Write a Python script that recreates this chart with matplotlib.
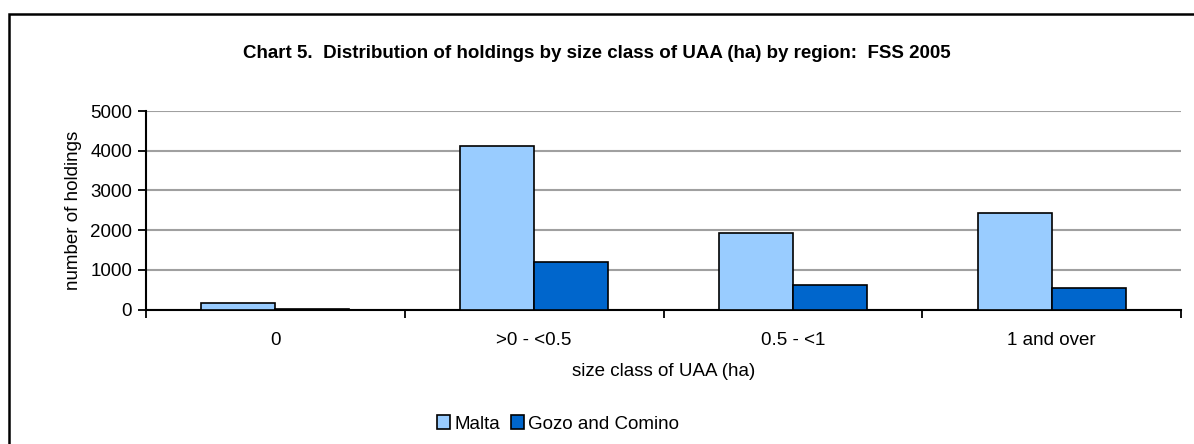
import matplotlib
matplotlib.use("Agg")
import matplotlib.pyplot as plt
import numpy as np
from matplotlib.patches import Rectangle

plt.rcParams["font.family"] = ["Liberation Sans", "DejaVu Sans"]

categories = ["0", ">0 - <0.5", "0.5 - <1", "1 and over"]
malta = [170, 4120, 1930, 2420]
gozo = [25, 1190, 620, 540]
series_names = ["Malta", "Gozo and Comino"]
colors = ["#99CCFF", "#0066CC"]

W, H = 1194, 444
fig = plt.figure(figsize=(W / 100, H / 100), dpi=100)

# outer chart frame (clipped at right/bottom like the reference)
fig.patches.append(Rectangle((8.5 / W, -0.1), 1.2, 1 - 14.5 / H + 0.1,
                             transform=fig.transFigure, fill=False,
                             edgecolor="black", linewidth=1.8))

ax = fig.add_axes([146 / W, 1 - 309.5 / H, (1181 - 146) / W, (309.5 - 111) / H])

x = np.arange(len(categories))
bw = 1 / 3.5
ax.bar(x - bw / 2, malta, bw, color=colors[0], edgecolor="black", linewidth=1.2,
       label=series_names[0], zorder=3)
ax.bar(x + bw / 2, gozo, bw, color=colors[1], edgecolor="black", linewidth=1.2,
       label=series_names[1], zorder=3)

ax.set_xlim(-0.5, len(categories) - 0.5)
ax.set_ylim(0, 5000)
ax.set_yticks(range(0, 5001, 1000))
ax.yaxis.grid(True, color="#a0a0a0", linewidth=1.5, zorder=0)
ax.set_axisbelow(True)

ax.set_xticks(np.arange(-0.5, len(categories), 1.0))
ax.set_xticklabels([])
ax.set_xticks(x, minor=True)
ax.set_xticklabels(categories, minor=True)
ax.tick_params(axis="x", which="major", length=6, width=1.3, direction="out")
ax.tick_params(axis="x", which="minor", length=0, labelsize=13.5, pad=16)
ax.tick_params(axis="y", length=6, width=1.3, direction="out", labelsize=13.5, pad=4)

for side in ["top", "right"]:
    ax.spines[side].set_visible(False)
ax.spines["left"].set_linewidth(1.5)
ax.spines["bottom"].set_linewidth(1.5)

ax.set_ylabel("number of holdings", fontsize=13.5, labelpad=6)
ax.set_xlabel("size class of UAA (ha)", fontsize=13.5, labelpad=10)

fig.text(0.5, 1 - 53 / H, "Chart 5.  Distribution of holdings by size class of UAA (ha) by region:  FSS 2005",
         ha="center", va="center", fontsize=13.5, fontweight="bold")

fig.legend(loc="center", bbox_to_anchor=(558 / W, 1 - 424 / H), ncol=2, frameon=False,
           fontsize=13.5, handlelength=0.7, handleheight=0.7, handletextpad=0.2,
           columnspacing=0.6)

fig.savefig("out.png", dpi=100)
